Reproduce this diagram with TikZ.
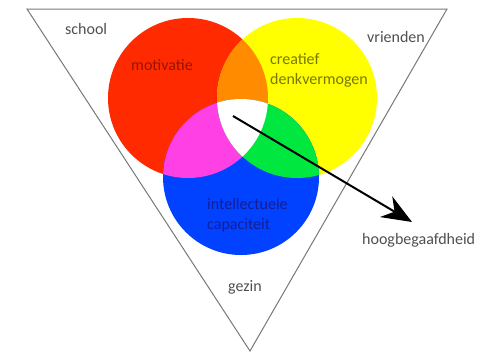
\documentclass[tikz,border=0pt]{standalone}
\usepackage{fontspec}
\setmainfont{Carlito}
\usetikzlibrary{arrows.meta}
\definecolor{cred}{RGB}{255,42,0}
\definecolor{cyel}{RGB}{255,255,0}
\definecolor{cblu}{RGB}{0,66,255}
\definecolor{cora}{RGB}{255,140,0}
\definecolor{cmag}{RGB}{255,64,228}
\definecolor{cgrn}{RGB}{0,232,64}
\definecolor{tred}{RGB}{150,20,0}
\definecolor{tyel}{RGB}{120,120,0}
\definecolor{tblu}{RGB}{20,30,150}
\definecolor{tgray}{RGB}{80,80,80}
\definecolor{lgray}{RGB}{120,120,120}
\tikzset{
  lbl/.style={font=\fontsize{16}{20}\selectfont, inner sep=0pt},
  outer/.style={lbl, text=tgray},
}
\begin{document}
\begin{tikzpicture}[x=1pt,y=-1pt]
\useasboundingbox (0,0) rectangle (490,356);
\fill[white] (0,0) rectangle (490,356);
% triangle
\draw[lgray, line width=1pt] (27,9) -- (447,9) -- (250,351) -- cycle;
% circles
\def\cR{(188,98) circle[radius=80]}
\def\cY{(297,98) circle[radius=80]}
\def\cB{(241,177) circle[radius=78]}
\fill[cred] \cR;
\fill[cyel] \cY;
\fill[cblu] \cB;
\begin{scope}\clip \cR; \fill[cora] \cY; \end{scope}
\begin{scope}\clip \cR; \fill[cmag] \cB; \end{scope}
\begin{scope}\clip \cY; \fill[cgrn] \cB; \end{scope}
\begin{scope}\clip \cR; \clip \cY; \fill[white] \cB; \end{scope}
% labels
\node[outer, anchor=west] (school) at (65,29) {school};
\node[outer, anchor=west] (vrienden) at (367,37) {vrienden};
\node[outer] (gezin) at (245,287) {gezin};
\node[outer, anchor=west] (hoog) at (362,240) {hoogbegaafdheid};
\node[lbl, text=tred] (mot) at (162,65) {motivatie};
\node[lbl, text=tyel, align=left, anchor=west] (crea) at (270,70) {creatief\\denkvermogen};
\node[lbl, text=tblu, align=left, anchor=west] (intel) at (207,215) {intellectuele\\capaciteit};
% arrow
\coordinate (start) at (233,116);
\coordinate (tip) at (412,222);
\draw[line width=2pt, -{Stealth[length=30pt,width=24pt]}] (start) -- (tip);
\end{tikzpicture}
\end{document}
